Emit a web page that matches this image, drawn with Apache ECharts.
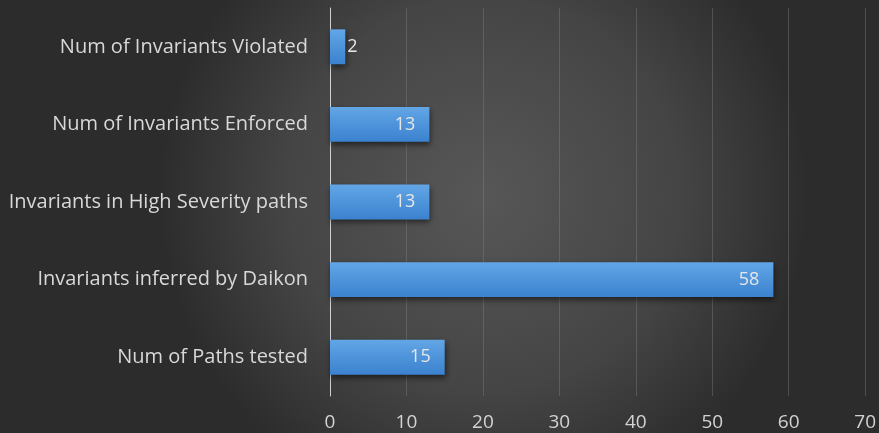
<!DOCTYPE html>
<html>
<head>
<meta charset="utf-8">
<script src="https://cdn.jsdelivr.net/npm/echarts@6/dist/echarts.min.js"></script>
<style>
  html, body { margin: 0; padding: 0; }
  #chart { width: 879px; height: 433px; }
</style>
</head>
<body>
<div id="chart"></div>
<script>
// Categories listed bottom to top (category axis on y starts at the bottom)
const categories = [
  'Num of Paths tested',
  'Invariants inferred by Daikon',
  'Invariants in High Severity paths',
  'Num of Invariants Enforced',
  'Num of Invariants Violated'
];
const values = [15, 58, 13, 13, 2];
const axisMin = 0;
const axisMax = 70;
const axisStep = 10;

const chart = echarts.init(document.getElementById('chart'));

// Short bars get their value printed just outside the bar end
const barData = values.map(v => ({
  value: v,
  label: { position: v < 5 ? 'right' : 'insideRight', distance: v < 5 ? 2 : 14 }
}));

chart.setOption({
  backgroundColor: {
    type: 'radial', x: 0.55, y: 0.45, r: 0.75,
    colorStops: [
      { offset: 0, color: '#575757' },
      { offset: 0.6, color: '#454545' },
      { offset: 1, color: '#2c2c2c' }
    ]
  },
  grid: { left: 330, right: 11, top: 8, bottom: 37, containLabel: false },
  xAxis: {
    type: 'value',
    min: axisMin, max: axisMax, interval: axisStep,
    axisLine: { show: false },
    axisTick: { show: false },
    axisLabel: { color: '#d2d2d2', fontSize: 19, fontFamily: 'Open Sans', margin: 17 },
    splitLine: { show: true, lineStyle: { color: 'rgba(140,140,140,0.35)', width: 1 } }
  },
  yAxis: {
    type: 'category',
    data: categories,
    axisLine: { show: true, lineStyle: { color: '#d0d0d0', width: 1 } },
    axisTick: { show: false },
    axisLabel: { color: '#d8d8d8', fontSize: 20, fontFamily: 'Open Sans', margin: 22 }
  },
  series: [{
    type: 'bar',
    data: barData,
    barWidth: '45%',
    itemStyle: {
      color: {
        type: 'linear', x: 0, y: 0, x2: 0, y2: 1,
        colorStops: [
          { offset: 0, color: '#62a6e6' },
          { offset: 1, color: '#3b82cf' }
        ]
      },
      shadowColor: 'rgba(0,0,0,0.55)',
      shadowBlur: 6,
      shadowOffsetX: 1,
      shadowOffsetY: 3
    },
    label: {
      show: true,
      color: '#e6e6e6',
      fontSize: 18,
      fontFamily: 'Open Sans'
    }
  }]
});
</script>
</body>
</html>
